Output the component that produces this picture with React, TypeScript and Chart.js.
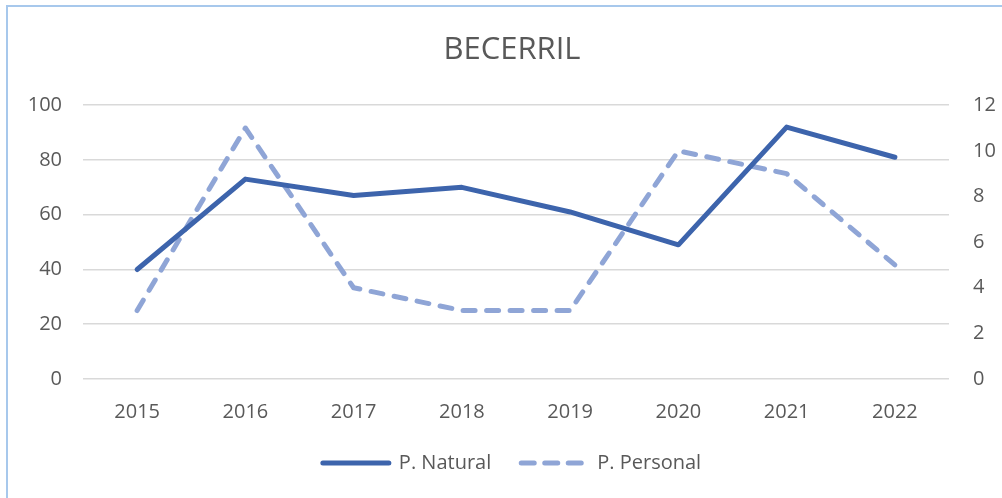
import React, { useEffect, useRef } from "react";
import { Chart, registerables } from "chart.js";

Chart.register(...registerables);

const categories = ["2015", "2016", "2017", "2018", "2019", "2020", "2021", "2022"];
const naturalValues = [40, 73, 67, 70, 61, 49, 92, 81];
const personalValues = [3, 11, 4, 3, 3, 10, 9, 5];
const chartTitle = "BECERRIL";
const seriesNames = ["P. Natural", "P. Personal"];

const FONT = "'Open Sans', 'Noto Sans', sans-serif";
const TEXT = "#595959";

const framePlugin = {
  id: "frame",
  afterDraw(chart: any) {
    const ctx = chart.ctx;
    ctx.save();
    ctx.strokeStyle = "#a7c8ec";
    ctx.lineWidth = 2;
    ctx.beginPath();
    ctx.moveTo(7, 498);
    ctx.lineTo(7, 6);
    ctx.lineTo(1002, 6);
    ctx.stroke();
    ctx.restore();
  },
};

export default function App() {
  const ref = useRef<HTMLCanvasElement | null>(null);
  useEffect(() => {
    if (!ref.current) return;
    const chart = new Chart(ref.current, {
      type: "line",
      data: {
        labels: categories,
        datasets: [
          {
            label: seriesNames[0],
            data: naturalValues,
            borderColor: "#3d64ac",
            backgroundColor: "#3d64ac",
            borderWidth: 5,
            borderCapStyle: "round",
            borderJoinStyle: "round",
            pointRadius: 0,
            yAxisID: "y",
            tension: 0,
          },
          {
            label: seriesNames[1],
            data: personalValues,
            borderColor: "#8fa5d6",
            backgroundColor: "#8fa5d6",
            borderWidth: 5,
            borderDash: [12, 11.5],
            borderCapStyle: "round",
            borderJoinStyle: "round",
            pointRadius: 0,
            yAxisID: "y2",
            tension: 0,
          },
        ],
      },
      options: {
        animation: false,
        responsive: false,
        maintainAspectRatio: false,
        layout: { padding: { left: 22, right: 0, top: 0, bottom: 15 } },
        plugins: {
          title: {
            display: true,
            text: chartTitle,
            color: TEXT,
            font: { family: FONT, size: 31, weight: "normal" },
            padding: { top: 32, bottom: 36 },
          },
          legend: {
            position: "bottom",
            labels: {
              usePointStyle: true,
              pointStyle: "line",
              pointStyleWidth: 66,
              boxHeight: 20,
              padding: 30,
              color: TEXT,
              font: { family: FONT, size: 20 },
              generateLabels: (c: any) => {
                const items = Chart.defaults.plugins.legend.labels.generateLabels(c);
                items.forEach((it: any, i: number) => {
                  it.lineCap = "round";
                  it.lineWidth = 5;
                  it.lineDash = i === 1 ? [13, 10.5] : [];
                });
                return items;
              },
            },
          },
          tooltip: { enabled: false },
        },
        scales: {
          x: {
            offset: true,
            grid: { display: false },
            border: { display: false },
            ticks: { color: TEXT, font: { family: FONT, size: 20 }, padding: 13 },
            afterFit: (s: any) => {
              s.height = 44;
            },
          },
          y: {
            position: "left",
            min: 0,
            max: 100,
            ticks: { stepSize: 20, color: TEXT, font: { family: FONT, size: 20 }, padding: 21 },
            grid: { color: "#d9d9d9", lineWidth: 1.5, drawTicks: false },
            border: { display: false },
            afterFit: (s: any) => {
              s.width = 61;
            },
          },
          y2: {
            position: "right",
            min: 0,
            max: 12,
            ticks: { stepSize: 2, color: TEXT, font: { family: FONT, size: 20 }, padding: 24 },
            grid: { display: false, drawTicks: false },
            border: { display: false },
            afterFit: (s: any) => {
              s.width = 53;
            },
          },
        },
      },
      plugins: [framePlugin],
    } as any);
    return () => chart.destroy();
  }, []);
  return (
    <div style={{ position: "absolute", left: 0, top: 0, width: 1002, height: 498, background: "#fff" }}>
      <canvas ref={ref} width={1002} height={498} style={{ width: 1002, height: 498, display: "block" }} />
    </div>
  );
}
